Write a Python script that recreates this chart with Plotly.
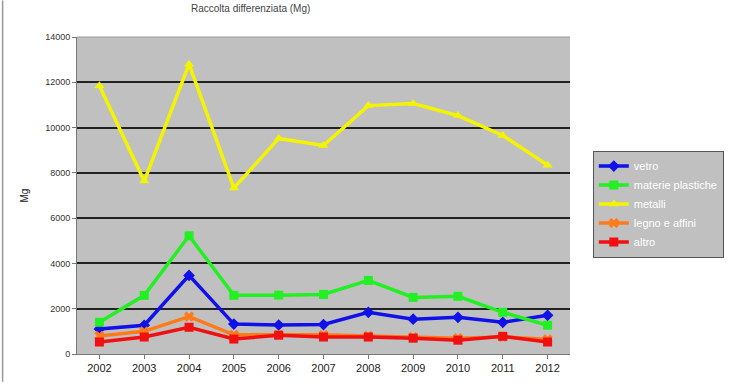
import plotly.graph_objects as go

# Annual quantities (Mg) per material, 2002-2012
years = ["2002", "2003", "2004", "2005", "2006", "2007", "2008", "2009", "2010", "2011", "2012"]
vetro = [1100, 1270, 3470, 1320, 1280, 1300, 1840, 1540, 1620, 1400, 1710]
plastica = [1400, 2590, 5220, 2590, 2600, 2630, 3250, 2500, 2550, 1840, 1270]
metalli = [11850, 7640, 12800, 7330, 9520, 9210, 10970, 11060, 10530, 9650, 8340]
legno = [800, 1000, 1650, 850, 850, 850, 800, 750, 700, 750, 650]
altro = [530, 750, 1180, 660, 830, 750, 750, 700, 610, 780, 530]

series_names = ["vetro", "materie plastiche", "metalli", "legno e affini", "altro"]
y_ticks = [0, 2000, 4000, 6000, 8000, 10000, 12000, 14000]
y_ticktext = ["0", "2000", "4000", "6000", "8000", "10000", "12000", "14000"]

styles = [
    ("#1010e8", "diamond"),
    ("#22f022", "square"),
    ("#f4f400", "triangle-up"),
    ("#ff7a1a", "x"),
    ("#f01010", "square"),
]

fig = go.Figure()
for name, vals, (col, sym) in zip(series_names, [vetro, plastica, metalli, legno, altro], styles):
    fig.add_trace(go.Scatter(
        x=years, y=vals, name=name, mode="lines+markers",
        line=dict(color=col, width=3.5),
        marker=dict(color=col, symbol=sym, size=9),
    ))

L, R, T, B = 77, 162, 37, 28
W, H = 736, 386
pw, ph = W - L - R, H - T - B

fig.update_layout(
    width=W, height=H,
    margin=dict(l=L, r=R, t=T, b=B),
    paper_bgcolor="white",
    plot_bgcolor="#c0c0c0",
    font=dict(family="Liberation Sans, Arial", color="#333333"),
    showlegend=True,
    legend=dict(
        x=(597 - L) / pw, y=(H - B - 152) / ph, xanchor="left", yanchor="top",
        bgcolor="#c0c0c0", bordercolor="#555555", borderwidth=1,
        font=dict(size=11, color="white"),
        tracegroupgap=0, itemwidth=30,
    ),
    xaxis=dict(
        type="category", range=[-0.5, 10.5],
        showgrid=False, showline=True, linecolor="#777777",
        ticks="outside", ticklen=4, tickcolor="#777777",
        tickfont=dict(size=11, color="#222222"),
    ),
    yaxis=dict(
        range=[0, 14000], tickvals=y_ticks, ticktext=y_ticktext,
        showgrid=True, gridcolor="#222222", gridwidth=1.5,
        showline=True, linecolor="#777777",
        ticks="outside", ticklen=4, tickcolor="#777777",
        tickfont=dict(size=9, color="#333333"),
        title=dict(text="Mg", font=dict(size=10, color="#222222"), standoff=14),
        zeroline=False,
    ),
    annotations=[
        dict(
            text="Raccolta differenziata (Mg)", xref="paper", yref="paper",
            x=(252 - L) / pw, y=(H - B - 1) / ph, xanchor="center", yanchor="top",
            showarrow=False, font=dict(size=10, color="#444444"),
        ),
    ],
    shapes=[
        dict(type="line", xref="paper", yref="paper",
             x0=(2 - L) / pw, x1=(2 - L) / pw, y0=-B / ph, y1=(H - B) / ph,
             line=dict(color="#999999", width=1.5)),
        dict(type="line", xref="paper", yref="paper",
             x0=0, x1=1, y0=1, y1=1, line=dict(color="#999999", width=1)),
    ],
)

fig.write_html("out.html")
